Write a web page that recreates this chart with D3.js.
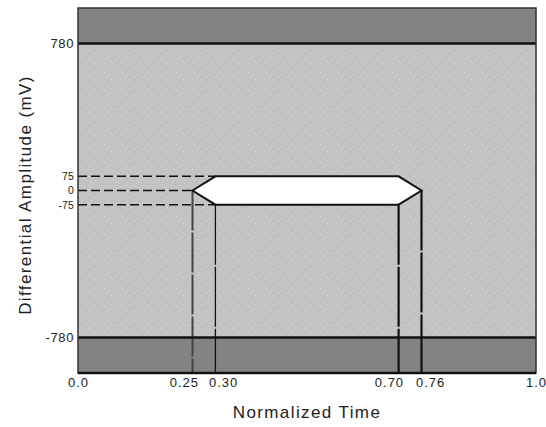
<!DOCTYPE html>
<html><head><meta charset="utf-8">
<script src="https://cdn.jsdelivr.net/npm/d3@7"></script>
<style>body{margin:0;background:#fff}svg{display:block}text{font-family:"Liberation Sans",Arial,sans-serif;fill:#222}</style>
</head><body><div id="c"></div>
<script>
// Data
const yTickValues = [780, 75, 0, -75, -780];
const yTickLabels = ["780", "75", "0", "-75", "-780"];
const xTickValues = [0.0, 0.25, 0.30, 0.70, 0.75, 1.0];
const xTickLabels = ["0.0", "0.25", "0.30", "0.70", "0.76", "1.0"];
const maskX = [0.25, 0.30, 0.70, 0.75, 0.70, 0.30];
const maskY = [0, 75, 75, 0, -75, -75];
const limitTop = 780, limitBottom = -780;
const yDomain = [-968, 968];

const W = 546, H = 427;
const m = {l: 78, r: 10, t: 8, b: 54};
const svg = d3.select("#c").append("svg").attr("width", W).attr("height", H);
const x = d3.scaleLinear().domain([0, 1]).range([m.l, W - m.r]);
const y = d3.scaleLinear().domain(yDomain).range([H - m.b, m.t]);

const defs = svg.append("defs");
const pat = defs.append("pattern").attr("id", "spk").attr("patternUnits", "userSpaceOnUse").attr("width", 9).attr("height", 9);
pat.append("rect").attr("width", 9).attr("height", 9).attr("fill", "#c2c2c2");
[[1,2],[5,0],[7,5],[3,7],[0,5]].forEach(p => pat.append("rect").attr("x", p[0]).attr("y", p[1]).attr("width", 1).attr("height", 1).attr("fill", "#d6d6d6"));

const g = svg.append("g");
g.append("rect").attr("x", x(0)).attr("y", y(limitTop)).attr("width", x(1) - x(0)).attr("height", y(limitBottom) - y(limitTop)).attr("fill", "url(#spk)");
g.append("rect").attr("x", x(0)).attr("y", y(yDomain[1])).attr("width", x(1) - x(0)).attr("height", y(limitTop) - y(yDomain[1])).attr("fill", "#838383");
g.append("rect").attr("x", x(0)).attr("y", y(limitBottom)).attr("width", x(1) - x(0)).attr("height", y(yDomain[0]) - y(limitBottom)).attr("fill", "#838383");

// horizontal dashed guide lines
const dash = "9,4";
[[1, 1], [0, 0], [5, 5]].forEach(([ix, iy]) =>
  g.append("line").attr("x1", x(0)).attr("x2", x(maskX[ix])).attr("y1", y(maskY[iy])).attr("y2", y(maskY[iy]))
    .attr("stroke", "#111").attr("stroke-width", 1.5).attr("stroke-dasharray", dash));

// vertical guide lines
const vlines = [
  {i: 0, w: 2, c: "#444", d: "40,2"},
  {i: 5, w: 1.3, c: "#111", d: "60,2"},
  {i: 4, w: 2.2, c: "#111", d: "60,2"},
  {i: 3, w: 2.2, c: "#111", d: "60,2"}
];
vlines.forEach(v => g.append("line").attr("x1", x(maskX[v.i])).attr("x2", x(maskX[v.i])).attr("y1", y(maskY[v.i])).attr("y2", y(yDomain[0])).attr("stroke", v.c).attr("stroke-width", v.w).attr("stroke-dasharray", v.d));

[limitTop, limitBottom].forEach(v => g.append("line").attr("x1", x(0)).attr("x2", x(1)).attr("y1", y(v)).attr("y2", y(v)).attr("stroke", "#111").attr("stroke-width", 2.5));

const pts = maskX.map((d, i) => [x(d), y(maskY[i])]);
g.append("path").attr("d", d3.line()(pts) + "Z").attr("fill", "#fff").attr("stroke", "#111").attr("stroke-width", 2).attr("stroke-linejoin", "miter");

g.append("rect").attr("x", x(0)).attr("y", y(yDomain[1])).attr("width", x(1) - x(0)).attr("height", y(yDomain[0]) - y(yDomain[1])).attr("fill", "none").attr("stroke", "#333").attr("stroke-width", 1.5);
g.append("line").attr("x1", x(0)).attr("x2", x(1)).attr("y1", y(yDomain[0])).attr("y2", y(yDomain[0])).attr("stroke", "#111").attr("stroke-width", 2.5);

const ya = svg.append("g").attr("transform", `translate(${x(0)},0)`)
  .call(d3.axisLeft(y).tickValues(yTickValues).tickSize(0).tickPadding(4).tickFormat((d, i) => yTickLabels[i]));
ya.select(".domain").remove();
ya.selectAll("text").attr("font-family", null).attr("fill", "#222")
  .attr("font-size", d => Math.abs(d) > 100 ? 13 : 10.5)
  .attr("letter-spacing", d => Math.abs(d) > 100 ? 0.6 : 0.2);

const xa = svg.append("g").attr("transform", `translate(0,${y(yDomain[0])})`)
  .call(d3.axisBottom(x).tickValues(xTickValues).tickSize(0).tickPadding(5).tickFormat((d, i) => xTickLabels[i]));
xa.select(".domain").remove();
// labels of close tick pairs are pushed apart
const anchors = ["middle", "end", "start", "end", "start", "middle"];
const shifts = [0, 6, -7, 5, -6, 0];
xa.selectAll("text").attr("font-size", 13).attr("letter-spacing", 1).attr("font-family", null).attr("fill", "#222")
  .attr("text-anchor", (d, i) => anchors[i]).attr("dx", (d, i) => shifts[i]);

svg.append("text").attr("x", 307).attr("y", 418).attr("text-anchor", "middle").attr("font-size", 17).attr("letter-spacing", 1.4).text("Normalized Time");
svg.append("text").attr("transform", "translate(31,195) rotate(-90)").attr("text-anchor", "middle").attr("font-size", 17).attr("letter-spacing", 1.4).text("Differential Amplitude (mV)");
</script></body></html>
